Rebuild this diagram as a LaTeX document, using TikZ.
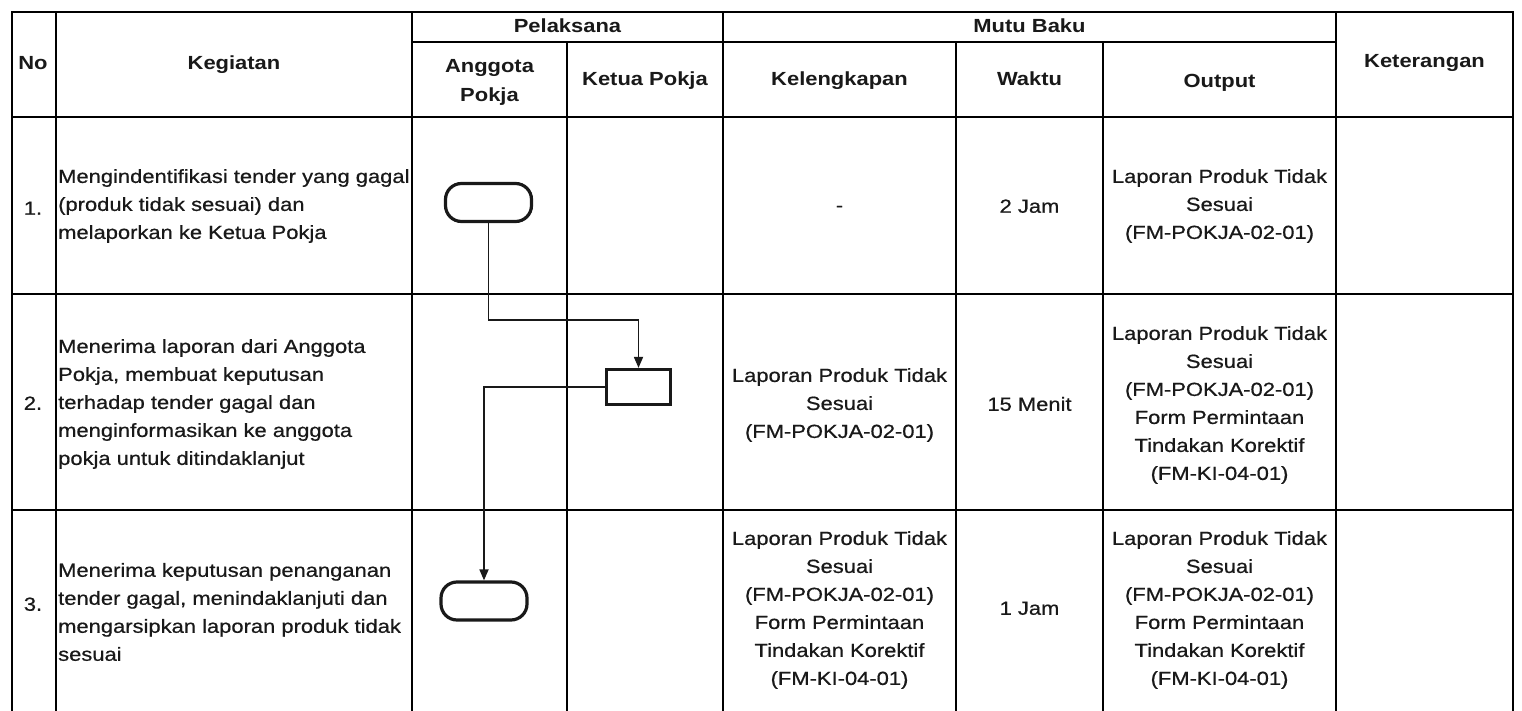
\documentclass[tikz,border=0pt]{standalone}
\usepackage{fontspec}
\setmainfont[FakeStretch=1.155, UprightFeatures={FakeBold=0.6}]{Liberation Sans}
\usetikzlibrary{arrows.meta}
\begin{document}
\begin{tikzpicture}[x=1pt,y=-1pt,
  every node/.style={inner sep=0pt, font=\fontsize{19}{28}\selectfont, text=black!90},
  one/.style={text height=13.5pt, text depth=4pt},
  hdr/.style={font=\bfseries\fontsize{19}{29}\selectfont, align=center},
  cell/.style={align=center},
  lft/.style={align=left, anchor=west},
  outer/.style={line width=2.8pt, line cap=rect},
  hline/.style={line width=2.3pt},
  thin/.style={line width=1.9pt},
  term/.style={draw=black!90, line width=3.2pt, rounded corners=16pt, minimum width=86pt, minimum height=38pt},
  proc/.style={draw=black!90, line width=3.2pt, minimum width=64pt, minimum height=35pt},
  flow/.style={line width=1.7pt, draw=black!90, -{Triangle[width=9pt,length=11pt]}}
]
\useasboundingbox (0,0) rectangle (1522,711);
\fill[white] (0,0) rectangle (1522,711);

% ---- table lines ----
\draw[thin] (12,294) -- (1513,294);
\draw[thin] (12,510) -- (1513,510);
\draw[thin] (56,117) -- (56,711);
\draw[thin] (412,117) -- (412,711);
\draw[thin] (567,117) -- (567,711);
\draw[thin] (723,117) -- (723,711);
\draw[thin] (956,117) -- (956,711);
\draw[thin] (1103,117) -- (1103,711);
\draw[thin] (1336,117) -- (1336,711);
\draw[hline] (56,12) -- (56,117);
\draw[hline] (412,12) -- (412,117);
\draw[hline] (567,42) -- (567,117);
\draw[hline] (723,12) -- (723,117);
\draw[hline] (956,42) -- (956,117);
\draw[hline] (1103,42) -- (1103,117);
\draw[hline] (1336,12) -- (1336,117);
\draw[hline] (412,42) -- (1336,42);
\draw[hline] (12,117) -- (1513,117);
\draw[outer] (12,711) -- (12,12) -- (1513,12) -- (1513,711);

% ---- header ----
\node[hdr,one] (hno) at (33,65) {No};
\node[hdr,one] (hkeg) at (234,65) {Kegiatan};
\node[hdr,one] (hpel) at (567.5,28) {Pelaksana};
\node[hdr,one] (hmutu) at (1029.5,28) {Mutu Baku};
\node[hdr,one] (hket) at (1424.5,63) {Keterangan};
\node[hdr] (hang) at (489.5,82) {Anggota\\Pokja};
\node[hdr,one] (hkp) at (645,81) {Ketua Pokja};
\node[hdr,one] (hkel) at (839.5,81) {Kelengkapan};
\node[hdr,one] (hwak) at (1029.5,81) {Waktu};
\node[hdr,one] (hout) at (1219.5,83) {Output};

% ---- row 1 ----
\node[one] (n1) at (33,210) {1.};
\node[lft] (k1) at (58,206) {Mengindentifikasi tender yang gagal\\(produk tidak sesuai) dan\\melaporkan ke Ketua Pokja};
\node[one] (kl1) at (839.5,207) {-};
\node[one] (w1) at (1029.5,208) {2 Jam};
\node[cell] (o1) at (1219.5,206) {Laporan Produk Tidak\\Sesuai\\(FM-POKJA-02-01)};

% ---- row 2 ----
\node[one] (n2) at (33,405) {2.};
\node[lft] (k2) at (58,404) {Menerima laporan dari Anggota\\Pokja, membuat keputusan\\terhadap tender gagal dan\\menginformasikan ke anggota\\pokja untuk ditindaklanjut};
\node[cell] (kl2) at (839.5,405) {Laporan Produk Tidak\\Sesuai\\(FM-POKJA-02-01)};
\node[one] (w2) at (1029.5,406) {15 Menit};
\node[cell] (o2) at (1219.5,405) {Laporan Produk Tidak\\Sesuai\\(FM-POKJA-02-01)\\Form Permintaan\\Tindakan Korektif\\(FM-KI-04-01)};

% ---- row 3 ----
\node[one] (n3) at (33,606) {3.};
\node[lft] (k3) at (58,612) {Menerima keputusan penanganan\\tender gagal, menindaklanjuti dan\\mengarsipkan laporan produk tidak\\sesuai};
\node[cell] (kl3) at (839.5,610) {Laporan Produk Tidak\\Sesuai\\(FM-POKJA-02-01)\\Form Permintaan\\Tindakan Korektif\\(FM-KI-04-01)};
\node[one] (w3) at (1029.5,610) {1 Jam};
\node[cell] (o3) at (1219.5,610) {Laporan Produk Tidak\\Sesuai\\(FM-POKJA-02-01)\\Form Permintaan\\Tindakan Korektif\\(FM-KI-04-01)};

% ---- flow ----
\node[term] (t1) at (488.5,202.5) {};
\node[proc] (b2) at (638.5,387) {};
\node[term] (t3) at (484,601) {};
\draw[flow] (t1.south) -- ++(0,97) -| (b2.north);
\draw[flow] (b2.west) -| (t3.north);
\end{tikzpicture}
\end{document}
